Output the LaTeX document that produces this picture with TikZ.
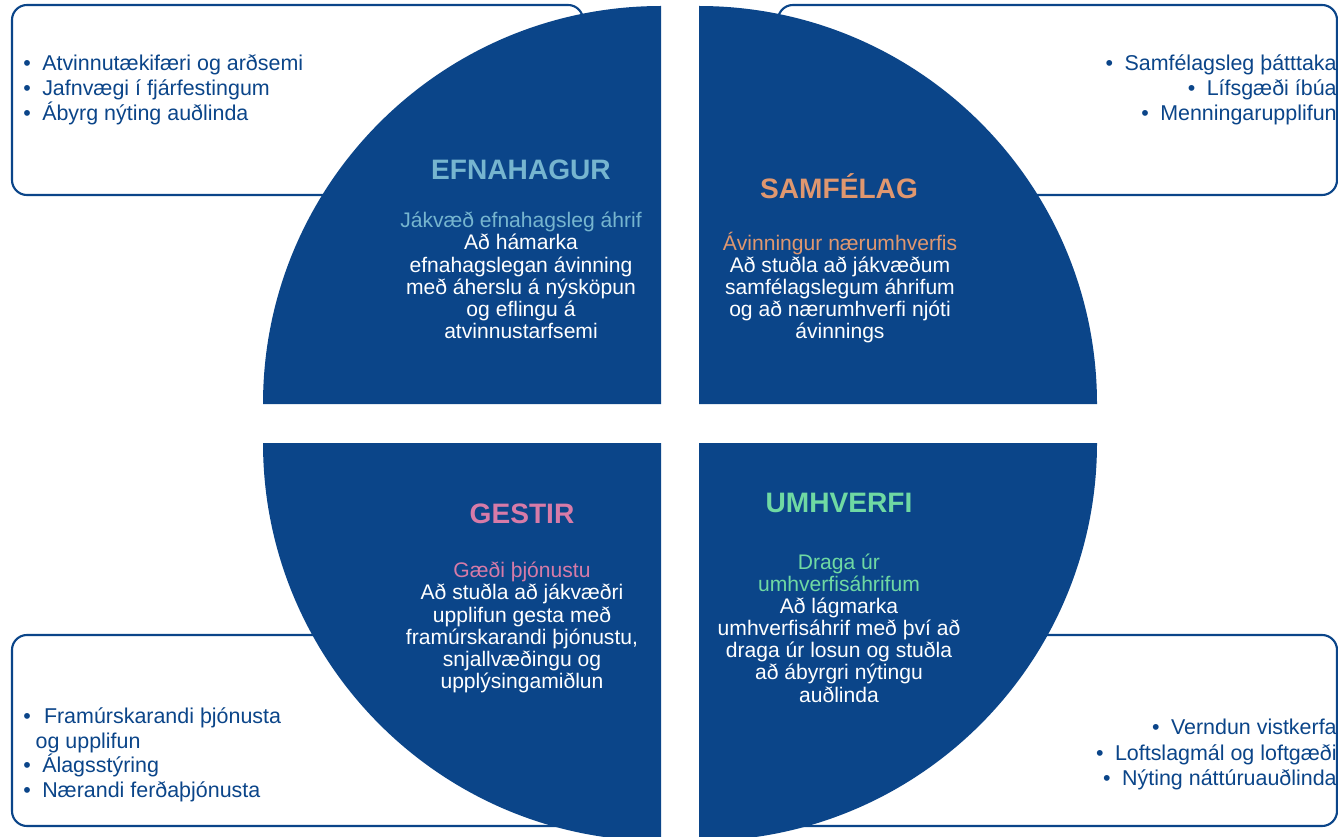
\documentclass[tikz,border=0pt]{standalone}
\usepackage{fontspec}
\setmainfont{Liberation Sans}
\usetikzlibrary{positioning}
\definecolor{deepblue}{HTML}{0B4589}
\definecolor{efnablue}{HTML}{76B5CF}
\definecolor{samforange}{HTML}{E0976F}
\definecolor{gestpink}{HTML}{D77BA8}
\definecolor{umhvgreen}{HTML}{6FD9A3}
\tikzset{quad/.style={fill=deepblue},
  frame/.style={draw=deepblue,line width=1.2pt,rounded corners=8.5pt,fill=white},
  title/.style={font=\bfseries\fontsize{16}{19}\selectfont},
  aim/.style={align=center,text=white,font=\fontsize{12}{12.6}\selectfont},
  list/.style={text=deepblue,font=\fontsize{12.2}{14.3}\selectfont}}
\newcommand{\blt}{\textbullet\hspace{6.5pt}}

\begin{document}
\begin{tikzpicture}[x=0.02cm,y=0.02cm,inner sep=0pt]
\useasboundingbox (0,0) rectangle (1338,836);
\clip (0,0) rectangle (1338,836);
% boxes behind
\draw[frame] (12,641) rectangle (583,831);
\draw[frame] (778,641) rectangle (1337,831);
\draw[frame] (12,10) rectangle (590,201);
\draw[frame] (770,10) rectangle (1337,201);
\node[list,anchor=west,align=left] (efnalist) at (23,746.5) {\blt Atvinnutækifæri og arðsemi\\ \blt Jafnvægi í fjárfestingum\\ \blt Ábyrg nýting auðlinda};
\node[list,anchor=east,align=right] (samflist) at (1337,746.5) {\blt Samfélagsleg þátttaka\\ \blt Lífsgæði íbúa\\ \blt Menningarupplifun};
\node[list,anchor=west,align=left,font=\fontsize{12.2}{14}\selectfont] (gestlist) at (23,81) {\blt\hspace{1pt}Framúrskarandi þjónusta\\ \hspace{7pt}og upplifun\\ \blt Álagsstýring\\ \blt Nærandi ferðaþjónusta};
\node[list,anchor=east,align=right] (umhvlist) at (1337,81.5) {\blt Verndun vistkerfa\\ \blt Loftslagmál og loftgæði\\ \blt Nýting náttúruauðlinda};
% quadrants
\foreach \cx/\cy/\a/\b in {661/432/180/90,699/432/0/90,661/393/180/270,699/393/0/-90}{\fill[quad] (\cx,\cy) -- ++(\a:398) arc (\a:\b:398) -- cycle;}
\node[title,text=efnablue] (efna) at (521,666) {EFNAHAGUR};
\node[aim] (efnaaim) at (521,560.5) {{\color{efnablue}Jákvæð efnahagsleg áhrif}\\ Að hámarka\\ efnahagslegan ávinning\\ með áherslu á nýsköpun\\ og eflingu á\\ atvinnustarfsemi};
\node[title,text=samforange] (samf) at (839,650) {SAMFÉLAG};
\node[aim] (samfaim) at (840,548.5) {{\color{samforange}Ávinningur nærumhverfis}\\ Að stuðla að jákvæðum\\ samfélagslegum áhrifum\\ og að nærumhverfi njóti\\ ávinnings};
\node[title,text=gestpink] (gest) at (522,322) {GESTIR};
\node[aim] (gestaim) at (522,208.5) {{\color{gestpink}Gæði þjónustu}\\ Að stuðla að jákvæðri\\ upplifun gesta með\\ framúrskarandi þjónustu,\\ snjallvæðingu og\\ upplýsingamiðlun};
\node[title,text=umhvgreen] (umhv) at (839,333) {UMHVERFI};
\node[aim] (umhvaim) at (839,208) {{\color{umhvgreen}Draga úr}\\ {\color{umhvgreen}umhverfisáhrifum}\\ Að lágmarka\\ umhverfisáhrif með því að\\ draga úr losun og stuðla\\ að ábyrgri nýtingu\\ auðlinda};
\end{tikzpicture}
\end{document}
